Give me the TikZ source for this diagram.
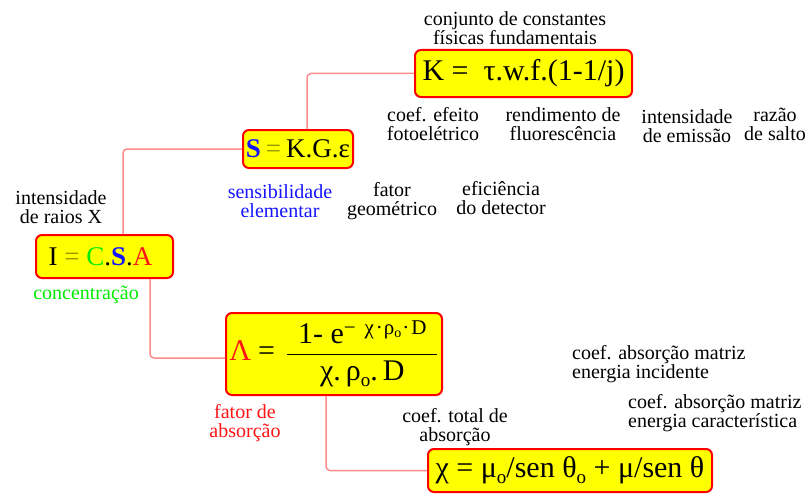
\documentclass[tikz,border=0pt]{standalone}
\usepackage{fontspec}
\setmainfont{Liberation Serif}
\definecolor{boxred}{RGB}{255,0,0}
\definecolor{boxyellow}{RGB}{255,255,0}
\definecolor{linkpink}{RGB}{255,140,140}
\definecolor{lblue}{RGB}{20,20,255}
\definecolor{lgreen}{RGB}{0,235,0}
\definecolor{lred}{RGB}{255,20,20}
\definecolor{eqolive}{RGB}{150,150,0}
\newcommand{\subo}[1][6pt]{\raisebox{-#1}{\fontsize{19}{19}\selectfont o}}
\begin{document}
\begin{tikzpicture}[x=1pt,y=-1pt,
  fbox/.style={draw=boxred, fill=boxyellow, line width=2pt, rounded corners=6pt,
    inner sep=0pt, align=center},
  big/.style={font=\fontsize{30}{30}\selectfont},
  mid/.style={font=\fontsize{27}{27}\selectfont},
  lbl/.style={font=\fontsize{20}{19}\selectfont, align=center, inner sep=0pt},
  link/.style={draw=linkpink, line width=1.5pt, rounded corners=4pt}]
\useasboundingbox (0,0) rectangle (811,503);
% boxes
\node[fbox, big, minimum width=217, minimum height=47] (K) at (523.5,73.5)
  {K =\ \ τ.w.f.(1-1/j)};
\node[fbox, mid, minimum width=110, minimum height=38] (S) at (298,149)
  {\textcolor{lblue}{\textbf{S}}\kern5pt\textcolor{eqolive}{=}\kern5pt K.G.ε};
\node[fbox, mid, minimum width=137, minimum height=43] (I) at (104.5,256.5)
  {I \textcolor{eqolive}{=} \textcolor{lgreen}{C}.\textcolor{lblue}{\textbf{S}}.\textcolor{lred}{A}\hspace{8pt}};
\node[fbox, big, minimum width=216, minimum height=82] (A) at (334,354)
  {\hbox{\textcolor{lred}{Λ}\hspace{7pt}=\hspace{11pt}$\displaystyle{\hbox to 150pt{\hss 1- e\raisebox{9pt}{\fontsize{21}{21}\selectfont −\ \,χ\kern2pt·\kern1pt ρ\raisebox{-3pt}{\fontsize{14}{14}\selectfont o}\kern1pt·\kern2pt D}\hss}\above 1.8pt
  \hbox to 150pt{\hss χ.\,ρ\subo.\,D\hss}}$}};
\node[fbox, big, minimum width=284, minimum height=43] (X) at (570,470.5)
  {χ = μ\subo/sen θ\subo{} + μ/sen θ};
% connectors
\coordinate (c1) at (307,73.5);
\draw[link] (K.west) -- (c1) -- (c1 |- S.north);
\coordinate (c2) at (123,149);
\draw[link] (S.west) -- (c2) -- (c2 |- I.north);
\coordinate (c3) at (150,358);
\draw[link] (c3 |- I.south) -- (c3) -- (c3 -| A.west);
\coordinate (c4) at (326,470.5);
\draw[link] (c4 |- A.south) -- (c4) -- (X.west);
% labels
\node[lbl, font=\fontsize{20}{17}\selectfont] (l1) at (515,28) {conjunto de constantes\\físicas fundamentais};
\node[lbl] (l2) at (433,124) {coef. efeito\\fotoelétrico};
\node[lbl] (l3) at (563,124) {rendimento de\\fluorescência};
\node[lbl] (l4) at (687,126) {intensidade\\de emissão};
\node[lbl] (l5) at (775,124) {razão\\de salto};
\node[lbl, text=lblue] (l6) at (280,201) {sensibilidade\\elementar};
\node[lbl] (l7) at (392,201) {fator\\geométrico};
\node[lbl] (l8) at (501,198) {eficiência\\do detector};
\node[lbl] (l9) at (61,207) {intensidade\\de raios X};
\node[lbl, text=lgreen] (l10) at (86,295) {concentração};
\node[lbl, text=lred] (l11) at (245,423) {fator de\\absorção};
\node[lbl] (l12) at (455,427) {coef. total de\\absorção};
\node[lbl, align=left, anchor=west] (l13) at (572,364) {coef. absorção matriz\\energia incidente};
\node[lbl, align=left, anchor=west] (l14) at (628,413) {coef. absorção matriz\\energia característica};
\end{tikzpicture}
\end{document}
